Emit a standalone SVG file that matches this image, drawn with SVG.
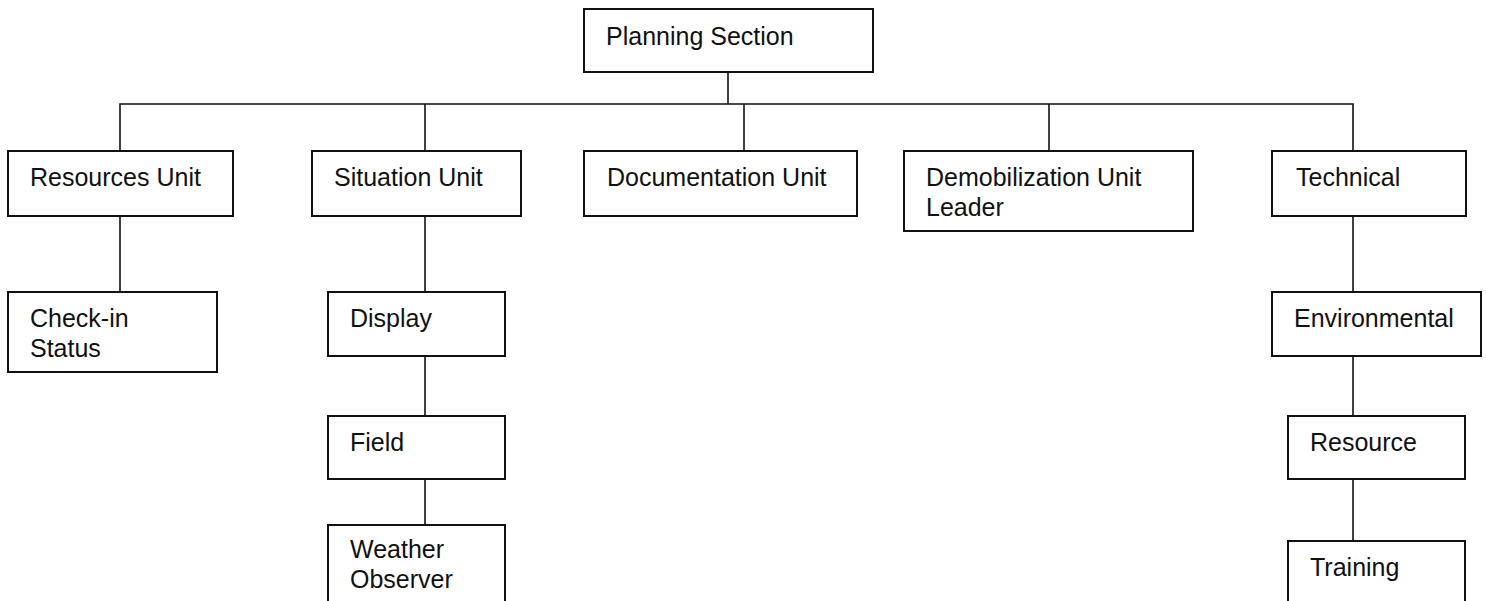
<svg xmlns="http://www.w3.org/2000/svg" width="1486" height="601" viewBox="0 0 1486 601">
  <style>
    .box { fill: #ffffff; stroke: #111111; stroke-width: 2; }
    .lbl { font-family: "Liberation Sans", Arial, sans-serif; font-size: 25px; fill: #111111; }
    .wire { fill: none; stroke: #111111; stroke-width: 1.6; }
  </style>
  <rect width="1486" height="601" fill="#ffffff"/>

  <!-- connectors -->
  <g id="connectors" class="wire">
    <path d="M728 72 V104"/>
    <path d="M120 151 V104 H1353 V151"/>
    <path d="M425 104 V151"/>
    <path d="M744 104 V151"/>
    <path d="M1049 104 V151"/>
    <path d="M120 216 V292"/>
    <path d="M425 216 V292"/>
    <path d="M425 356 V416"/>
    <path d="M425 479 V525"/>
    <path d="M1353 216 V292"/>
    <path d="M1353 356 V416"/>
    <path d="M1353 479 V541"/>
  </g>

  <!-- top -->
  <g id="planning-section">
    <rect class="box" x="584" y="9" width="289" height="63"/>
    <text class="lbl" x="606" y="45">Planning Section</text>
  </g>

  <!-- units -->
  <g id="resources-unit">
    <rect class="box" x="8" y="151" width="225" height="65"/>
    <text class="lbl" x="30" y="186">Resources Unit</text>
  </g>
  <g id="situation-unit">
    <rect class="box" x="312" y="151" width="209" height="65"/>
    <text class="lbl" x="334" y="186">Situation Unit</text>
  </g>
  <g id="documentation-unit">
    <rect class="box" x="584" y="151" width="273" height="65"/>
    <text class="lbl" x="607" y="186">Documentation Unit</text>
  </g>
  <g id="demobilization-unit">
    <rect class="box" x="904" y="151" width="289" height="80"/>
    <text class="lbl" x="926" y="186">Demobilization Unit</text>
    <text class="lbl" x="926" y="216">Leader</text>
  </g>
  <g id="technical">
    <rect class="box" x="1272" y="151" width="194" height="65"/>
    <text class="lbl" x="1296" y="186">Technical</text>
  </g>

  <!-- resources branch -->
  <g id="check-in-status">
    <rect class="box" x="8" y="292" width="209" height="80"/>
    <text class="lbl" x="30" y="327">Check-in</text>
    <text class="lbl" x="30" y="357">Status</text>
  </g>

  <!-- situation branch -->
  <g id="display">
    <rect class="box" x="328" y="292" width="177" height="64"/>
    <text class="lbl" x="350" y="327">Display</text>
  </g>
  <g id="field">
    <rect class="box" x="328" y="416" width="177" height="63"/>
    <text class="lbl" x="350" y="451">Field</text>
  </g>
  <g id="weather-observer">
    <rect class="box" x="328" y="525" width="177" height="100"/>
    <text class="lbl" x="350" y="558">Weather</text>
    <text class="lbl" x="350" y="588">Observer</text>
  </g>

  <!-- technical branch -->
  <g id="environmental">
    <rect class="box" x="1272" y="292" width="209" height="64"/>
    <text class="lbl" x="1294" y="327">Environmental</text>
  </g>
  <g id="resource">
    <rect class="box" x="1288" y="416" width="177" height="63"/>
    <text class="lbl" x="1310" y="451">Resource</text>
  </g>
  <g id="training">
    <rect class="box" x="1288" y="541" width="177" height="90"/>
    <text class="lbl" x="1310" y="576">Training</text>
  </g>
</svg>
